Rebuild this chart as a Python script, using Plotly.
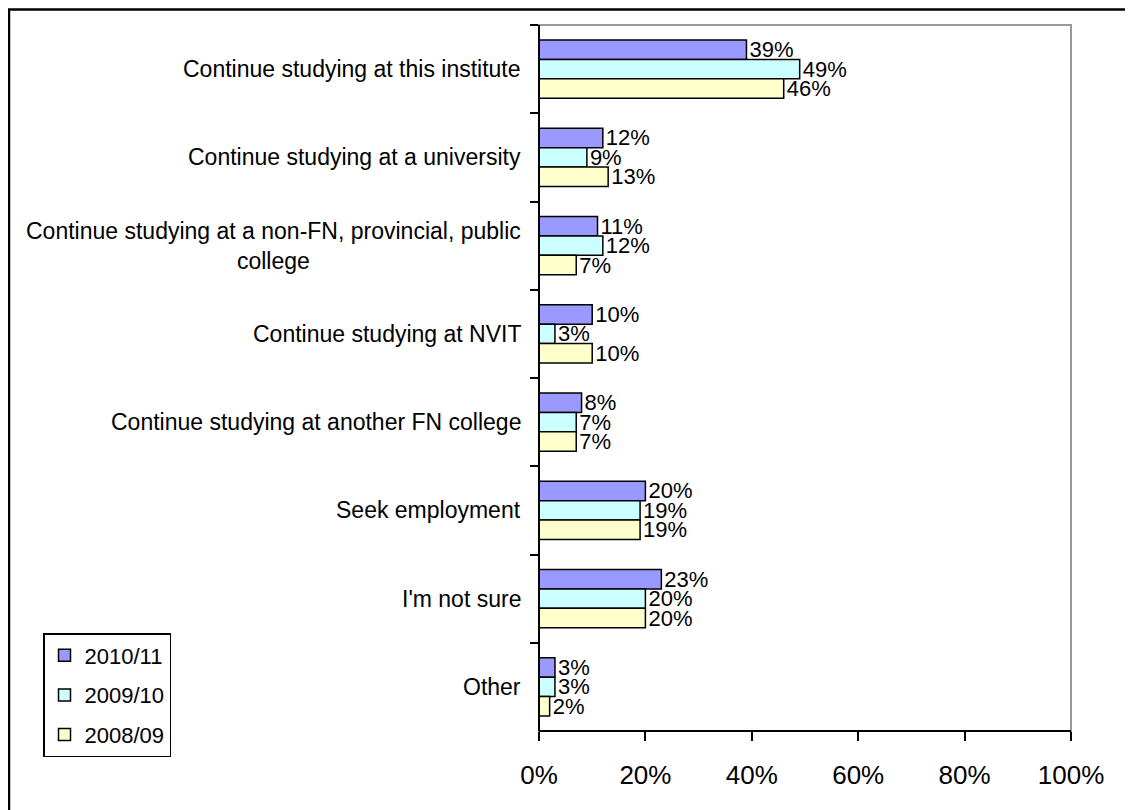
import plotly.graph_objects as go

categories = [
    "Continue studying at this institute",
    "Continue studying at a university",
    "Continue studying at a non-FN, provincial, public<br>college",
    "Continue studying at NVIT",
    "Continue studying at another FN college",
    "Seek employment",
    "I'm not sure",
    "Other",
]
series_names = ["2010/11", "2009/10", "2008/09"]
v_2010_11 = [39, 12, 11, 10, 8, 20, 23, 3]
v_2009_10 = [49, 9, 12, 3, 7, 19, 20, 3]
v_2008_09 = [46, 13, 7, 10, 7, 19, 20, 2]
x_ticks = [0, 20, 40, 60, 80, 100]
x_tick_labels = ["0%", "20%", "40%", "60%", "80%", "100%"]

colors = ["#9999FF", "#CCFFFF", "#FFFFCC"]
FONT = "Arial, Liberation Sans, sans-serif"

fig = go.Figure()
for name, vals, col in zip(series_names, [v_2010_11, v_2009_10, v_2008_09], colors):
    fig.add_trace(go.Bar(
        y=categories, x=vals, name=name, orientation="h",
        marker=dict(color=col, line=dict(color="black", width=1.5)),
        text=[f"{v}%" for v in vals], textposition="outside",
        textfont=dict(size=22, color="black", family=FONT),
        constraintext="none", cliponaxis=False,
        legendgroup=name,
    ))

for c in categories:
    fig.add_annotation(
        xref="paper", yref="y", x=0, y=c, xshift=-16,
        text=c, showarrow=False, xanchor="right", align="center",
        font=dict(size=23, color="black", family=FONT),
    )

# page body has an 8px margin: figure is drawn 8px smaller and offset
OFF = 8
W, H = 1133 - OFF, 810 - OFF
L, R, T, B = 539 - OFF, 1071 - OFF, 25 - OFF, 731 - OFF
def px(x):
    return (x - OFF - L) / (R - L)
def py(y):
    return (B - (y - OFF)) / (B - T)

shapes = [
    dict(type="rect", xref="paper", yref="paper", x0=px(9), x1=px(1145), y0=py(9.5), y1=py(830),
         line=dict(color="black", width=2.5), fillcolor="rgba(0,0,0,0)", layer="below"),
    dict(type="rect", xref="paper", yref="paper", x0=0, x1=1, y0=0, y1=1,
         line=dict(color="#999999", width=2), fillcolor="rgba(0,0,0,0)", layer="below"),
    dict(type="line", xref="paper", yref="paper", x0=0, x1=0, y0=0, y1=1,
         line=dict(color="black", width=2)),
    dict(type="line", xref="paper", yref="paper", x0=0, x1=1, y0=0, y1=0,
         line=dict(color="black", width=2)),
]

fig.update_layout(
    width=W, height=H,
    margin=dict(l=L, r=W - R, t=T, b=H - B, pad=0),
    paper_bgcolor="white", plot_bgcolor="white",
    barmode="group", bargap=0.34, bargroupgap=0,
    font=dict(family=FONT, color="black"),
    shapes=shapes,
    showlegend=True,
    legend=dict(
        xref="container", yref="container",
        x=(43 - OFF) / W, y=1 - (633 - OFF) / H, xanchor="left", yanchor="top",
        bgcolor="white", bordercolor="black", borderwidth=1.5,
        font=dict(size=22, color="black", family=FONT),
        traceorder="grouped", tracegroupgap=8,
    ),
    xaxis=dict(
        range=[0, 100], tickvals=x_ticks, ticktext=x_tick_labels,
        showgrid=False, zeroline=False, showline=False,
        ticks="outside", ticklen=9, tickwidth=2, tickcolor="black",
        tickfont=dict(size=26, color="black", family=FONT),
        ticklabelstandoff=12,
    ),
    yaxis=dict(
        autorange="reversed", showgrid=False, zeroline=False, showline=False,
        showticklabels=False, ticks="outside", tickson="boundaries",
        ticklen=8, tickwidth=2, tickcolor="black",
    ),
)

fig.write_html("out.html")
